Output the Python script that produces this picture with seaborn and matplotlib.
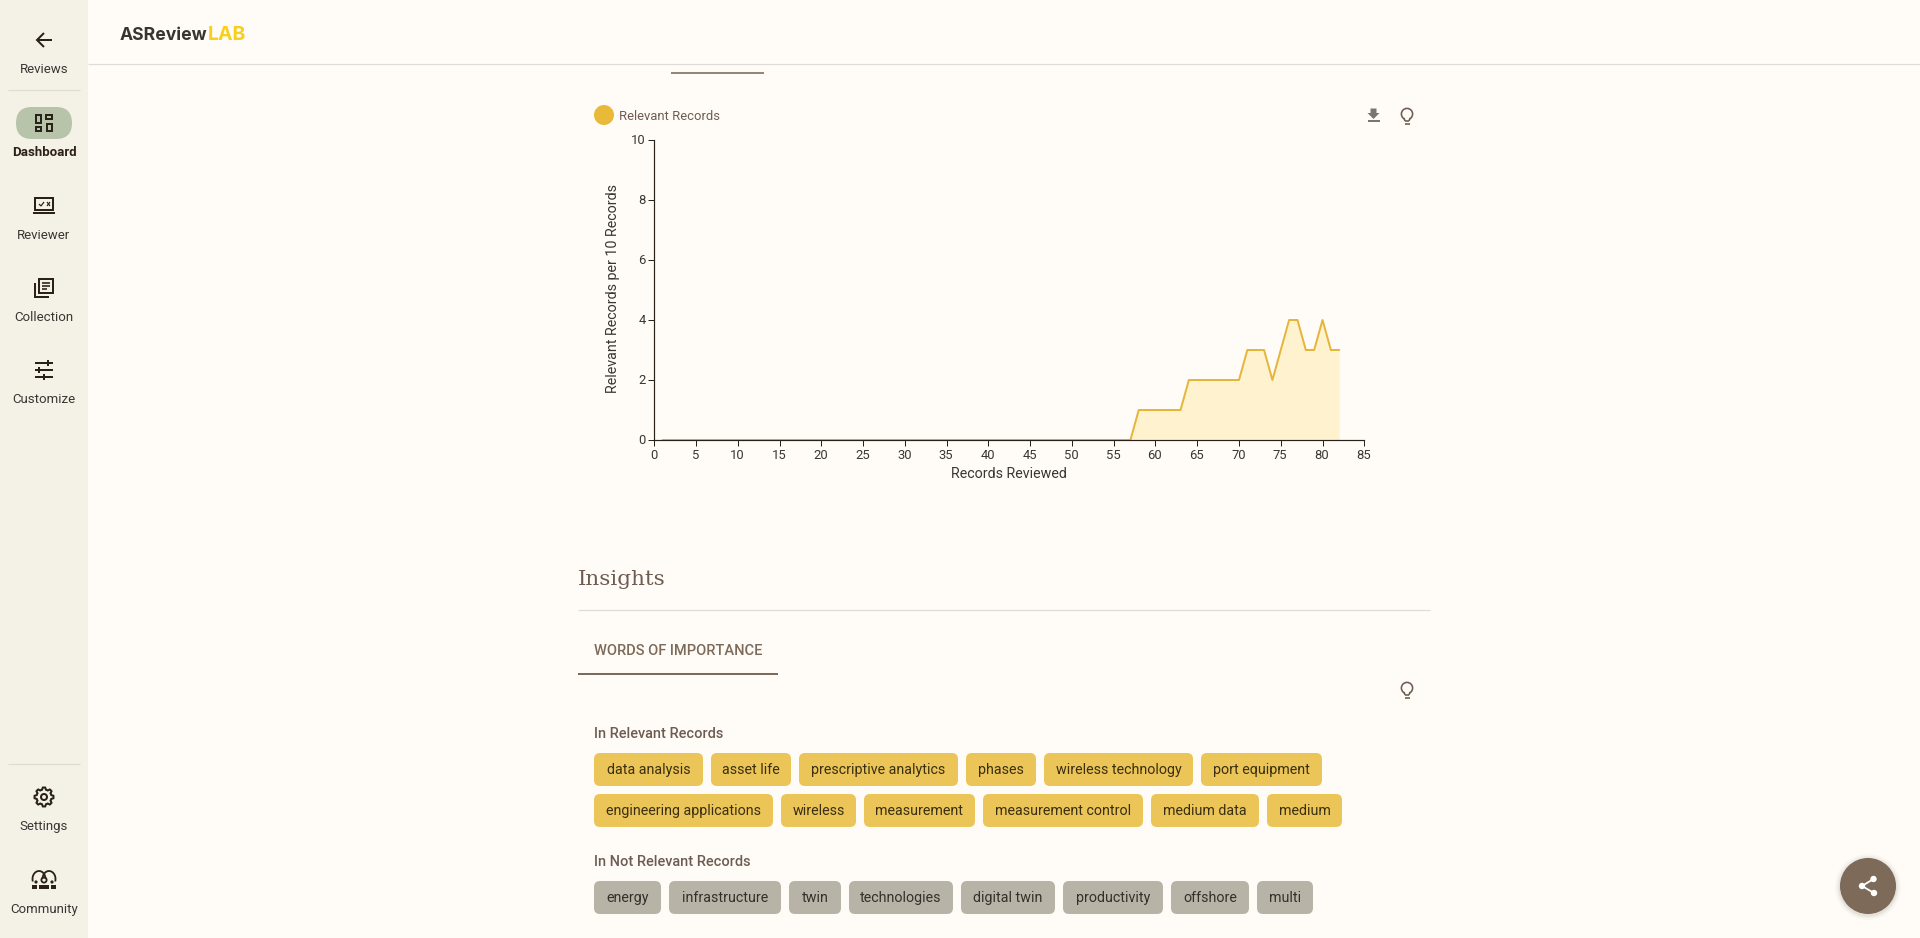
import numpy as np
import pandas as pd
import matplotlib
matplotlib.use("Agg")
import matplotlib.pyplot as plt
from matplotlib.patches import Circle, FancyBboxPatch, Rectangle, Polygon
from matplotlib.transforms import ScaledTranslation
import seaborn as sns

# ---------- data ----------
records = list(range(1, 83))
relevant = [0] * 57 + [1] * 6 + [2] * 7 + [3, 3, 3, 2, 3, 4, 4, 3, 3, 4, 3, 3]
x_ticks = list(range(0, 90, 5))
y_ticks = [0, 2, 4, 6, 8, 10]
relevant_words_1 = ["data analysis", "asset life", "prescriptive analytics", "phases", "wireless technology", "port equipment"]
relevant_words_2 = ["engineering applications", "wireless", "measurement", "measurement control", "medium data", "medium"]
not_relevant_words = ["energy", "infrastructure", "twin", "technologies", "digital twin", "productivity", "offshore", "multi"]
nav_top = ["Reviews", "Dashboard", "Reviewer", "Collection", "Customize"]
nav_bottom = ["Settings", "Community"]

# ---------- style ----------
BG = "#FFFCF7"; SIDE = "#F4F1E7"; RULE = "#DEDCD5"; DARK = "#2A2119"; TXT = "#3A3633"
BROWN = "#6E5C52"; TAB = "#7C6A5A"; GOLD = "#E6B53C"; FILL = "#FFF3CF"
CHIP_Y = "#ECC558"; CHIP_G = "#B7B4A7"
PX = 0.72  # one pixel, in points, at dpi 100

sns.set_theme(style="white")
plt.rcParams["font.family"] = ["Roboto", "DejaVu Sans"]

fig = plt.figure(figsize=(19.2, 9.38), dpi=100, facecolor=BG)

# page furniture: an axes in pixel units
ui = fig.add_axes([0, 0, 1, 1], zorder=0)
ui.set_xlim(0, 1920); ui.set_ylim(938, 0); ui.axis("off")

def rect(x0, y0, x1, y1, c, z=1):
    ui.add_patch(Rectangle((x0, y0), x1 - x0, y1 - y0, fc=c, ec="none", zorder=z))

def rrect(x0, y0, x1, y1, r, c):
    ui.add_patch(FancyBboxPatch((x0 + r, y0 + r), x1 - x0 - 2 * r, y1 - y0 - 2 * r,
                                boxstyle=f"round,pad={r},rounding_size={r}", fc=c, ec="none", zorder=2))

def line(xs, ys, c=DARK, w=2, z=4, cap="butt"):
    ui.plot(xs, ys, color=c, lw=w * PX, zorder=z, solid_capstyle=cap, solid_joinstyle="miter")

def box(x0, y0, x1, y1, c=DARK, w=2):
    ui.add_patch(Rectangle((x0, y0), x1 - x0, y1 - y0, fc="none", ec=c, lw=w * PX, zorder=4))

def label(x, y, s, px=14, c=TXT, ha="left", weight="normal", **kw):
    # y is the visual middle of the x-height band; text sits on a shared baseline
    ui.text(x, y + 0.36 * px, s, fontsize=px * PX, color=c, ha=ha, va="baseline", fontweight=weight, zorder=5, **kw)

def bulb(cx, cy):
    ui.add_patch(Circle((cx, cy - 2), 5.6, fc="none", ec=BROWN, lw=1.6 * PX, zorder=4))
    rect(cx - 2.5, cy + 2, cx + 2.5, cy + 5, BG, 5)
    line([cx - 3, cx - 2], [cy + 2, cy + 5], BROWN, 1.6, 6)
    line([cx + 3, cx + 2], [cy + 2, cy + 5], BROWN, 1.6, 6)
    line([cx - 2, cx + 2], [cy + 5, cy + 5], BROWN, 1.6, 6)
    line([cx - 2.5, cx + 2.5], [cy + 8, cy + 8], BROWN, 1.6, 6)

# sidebar and header
rect(0, 0, 88, 938, SIDE)
line([88, 1920], [64.5, 64.5], RULE, 1.2)
line([8, 80], [90.5, 90.5], RULE, 1.2)
line([8, 80], [764.5, 764.5], RULE, 1.2)
rrect(16, 107, 72, 139, 16, "#B7C4AA")

for name, y in zip(nav_top, [68.5, 151.5, 234.5, 316.5, 398.5]):
    label(44, y, name, 13.2, DARK if name == "Dashboard" else TXT, "center",
          "bold" if name == "Dashboard" else "normal")
for name, y in zip(nav_bottom, [825.5, 908.5]):
    label(44, y, name, 13.2, TXT, "center")

# nav icons
line([37, 52], [40, 40]); line([44, 37, 44], [33, 40, 47])
box(36, 115, 41, 123); box(46, 115, 52, 119); box(36, 127, 41, 131); box(47, 124, 52, 131)
box(35, 198, 53, 210); line([33, 55], [213.5, 213.5], w=2)
line([39, 41, 44], [204, 206, 202], w=1.2); line([47, 50], [202, 206], w=1.2); line([50, 47], [202, 206], w=1.2)
box(39, 279, 53, 293); line([35, 35, 49], [283, 297, 297])
line([42, 50], [283, 283], w=1.6); line([42, 50], [286, 286], w=1.6); line([42, 47], [289, 289], w=1.6)
for yy, a, b, c0, c1 in [(363, 35, 47, 49, 53), (370, 35, 38, 40, 53), (377, 35, 43, 45, 53)]:
    line([a, b], [yy, yy]); line([c0, c1], [yy, yy])
line([48, 48], [360, 366]); line([39, 39], [367, 373]); line([44, 44], [374, 380])

ang = np.linspace(0, 2 * np.pi, 48, endpoint=False)
rad = np.where(np.cos(8 * ang) > 0, 9.5, 7.5)
ui.add_patch(Polygon(np.c_[44 + rad * np.cos(ang), 797 + rad * np.sin(ang)], fc="none", ec=DARK, lw=2 * PX, zorder=4))
ui.add_patch(Circle((44, 797), 3, fc="none", ec=DARK, lw=2 * PX, zorder=4))

t = np.linspace(np.pi * 0.9, np.pi * 2.0, 30)
line(39 + 6.5 * np.cos(t), 879 + 8 * np.sin(t), w=1.8)
t2 = np.linspace(np.pi, np.pi * 2.1, 30)
line(49 + 6.5 * np.cos(t2), 879 + 8 * np.sin(t2), w=1.8)
ui.add_patch(Circle((44, 880), 2.6, fc="none", ec=DARK, lw=1.8 * PX, zorder=4))
ui.add_patch(Circle((36, 882), 1.6, fc=DARK, ec="none", zorder=4))
ui.add_patch(Circle((52, 882), 1.6, fc=DARK, ec="none", zorder=4))
rect(39, 885, 49, 889, DARK, 4); rect(32, 885.5, 37, 889, DARK, 4); rect(51, 885.5, 56, 889, DARK, 4)

# logo
ui.text(120, 39.5, "ASReview", fontsize=17.6 * PX, color="#38342F", family="Inter", fontweight=700, va="baseline", zorder=5)
ui.text(208, 39.5, "LAB", fontsize=19.5 * PX, color="#F9CF1E", family="Inter", fontweight=700, va="baseline", zorder=5)

# upper tab underline
line([671, 764], [73.5, 73.5], TAB, 1.6)

# chart legend and tools
ui.add_patch(Circle((604, 115), 10, fc="#E9BA3A", ec="none", zorder=3))
label(619, 115.5, "Relevant Records", 13, BROWN)
ui.add_patch(Polygon([(1370.5, 108.5), (1376.5, 108.5), (1376.5, 113), (1379.5, 113), (1373.5, 119), (1367.5, 113), (1370.5, 113)],
                     fc="#7A7570", ec="none", zorder=4))
line([1368, 1379.5], [121.5, 121.5], "#7A7570", 2)
bulb(1407, 116); bulb(1407, 690)

# Insights section
ui.text(578, 585, "Insights", fontsize=21.5 * PX, color=BROWN, family="DejaVu Serif", va="baseline", zorder=5)
line([578, 1430], [610.5, 610.5], RULE, 1.2)
label(594, 650, "WORDS OF IMPORTANCE", 14.6, TAB, weight=500)
line([578, 778], [674, 674], TAB, 2)
label(594, 733, "In Relevant Records", 14.5, BROWN, weight=500)
label(594, 861, "In Not Relevant Records", 14.5, BROWN, weight=500)

# chips (box edges only; the words come from the lists above)
def chips(words, edges, y0, y1, col, txt):
    for w, (a, b) in zip(words, edges):
        rrect(a, y0, b, y1, 6, col)
        label((a + b) / 2, (y0 + y1) / 2 - 0.8, w, 14.2, txt, "center")

chips(relevant_words_1, [(594, 703), (711, 791), (799, 958), (966, 1036), (1044, 1193), (1201, 1322)], 753, 786, CHIP_Y, "#3A2F10")
chips(relevant_words_2, [(594, 773), (781, 856), (864, 975), (983, 1143), (1151, 1259), (1267, 1342)], 794, 827, CHIP_Y, "#3A2F10")
chips(not_relevant_words, [(594, 661), (669, 781), (789, 841), (849, 953), (961, 1055), (1063, 1163), (1171, 1249), (1257, 1313)], 881, 914, CHIP_G, "#33302B")

# share button
for r, a in [(33, 0.03), (31, 0.05), (29.5, 0.07)]:
    ui.add_patch(Circle((1868, 887), r, fc="#5A4A3A", ec="none", alpha=a, zorder=3))
ui.add_patch(Circle((1868, 886), 28, fc="#7D6A58", ec="none", zorder=4))
line([1873.5, 1862, 1874], [879, 886, 893], "white", 1.8, 5)
for cx, cy, r in [(1873.5, 879, 3.2), (1862, 886, 3.2), (1874, 893, 3.2)]:
    ui.add_patch(Circle((cx, cy), r, fc="white", ec="none", zorder=6))

# ---------- chart ----------
ax = fig.add_axes([654.3 / 1920, (938 - 440) / 938, 710 / 1920, 300 / 938], zorder=2)
ax.patch.set_alpha(0)
df = pd.DataFrame({"Records Reviewed": records, "Relevant": relevant})
ax.fill_between(df["Records Reviewed"], df["Relevant"], 0, color=FILL, lw=0, zorder=1)
sns.lineplot(data=df, x="Records Reviewed", y="Relevant", color=GOLD, lw=2 * PX,
             estimator=None, errorbar=None, ax=ax, zorder=2, clip_on=False)
ax.set_xlim(0, 85); ax.set_ylim(0, 10)
ax.set_xticks(x_ticks); ax.set_yticks(y_ticks)
sns.despine(ax=ax)
for s in ("left", "bottom"):
    ax.spines[s].set_color(DARK); ax.spines[s].set_linewidth(1.2 * PX)
ax.tick_params(axis="both", length=6 * PX, width=1 * PX, color=DARK, labelcolor=TXT,
               labelsize=13 * PX, pad=2.5 * PX, left=True, bottom=True)
for lab in ax.get_xticklabels():
    lab.set_transform(lab.get_transform() + ScaledTranslation(-0.6 / 100, 0, fig.dpi_scale_trans))
for lab in ax.get_yticklabels():
    lab.set_transform(lab.get_transform() + ScaledTranslation(0, 1.0 / 100, fig.dpi_scale_trans))
ax.set_xlabel("Records Reviewed", fontsize=14.2 * PX, color=TXT, va="center")
ax.set_ylabel("Relevant Records per 10 Records", fontsize=14.2 * PX, color=TXT, va="center")
ax.xaxis.set_label_coords(0.5, -0.113)
ax.yaxis.set_label_coords(-0.058, 0.505)

fig.savefig("out.png", dpi=100, facecolor=BG)
